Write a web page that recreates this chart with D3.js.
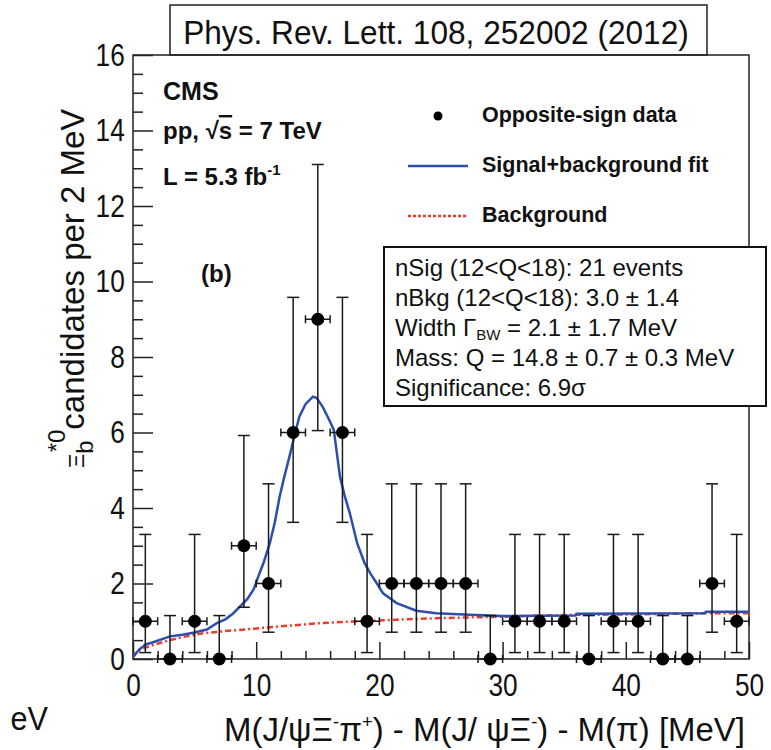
<!DOCTYPE html>
<html><head><meta charset="utf-8">
<script src="https://cdn.jsdelivr.net/npm/d3@7"></script>
<style>body{margin:0;background:#fff}svg{display:block}text{font-family:"Liberation Sans",Arial,sans-serif}</style>
</head><body>
<script>
// ---- data ----
const binCenters = [1,3,5,7,9,11,13,15,17,19,21,23,25,27,29,31,33,35,37,39,41,43,45,47,49];
const counts     = [1,0,1,0,3,2,6,9,6,1,2,2,2,2,0,1,1,1,0,1,1,0,0,2,1];
const errLow     = [0.83,0,0.83,0,1.63,1.29,2.38,2.95,2.38,0.83,1.29,1.29,1.29,1.29,0,0.83,0.83,0.83,0,0.83,0.83,0,0,1.29,0.83];
const errHigh    = [2.3,1.15,2.3,1.15,2.92,2.64,3.58,4.1,3.58,2.3,2.64,2.64,2.64,2.64,1.15,2.3,2.3,2.3,1.15,2.3,2.3,1.15,1.15,2.64,2.3];
const binHalfWidth = 1;
const fitX = [0,0.5,1,1.7,3,4,5,6,6.8,7.5,8.1,8.8,9.3,9.8,10.3,10.6,11.1,11.5,11.9,12.3,12.7,13.1,13.5,14,14.6,14.9,15.4,15.9,16.3,16.8,17.2,17.6,18.2,18.8,19.3,19.8,20.3,21.4,23,24.6,27.3,30,35.9,36,46.4,46.5,50];
const fitY = [0.05,0.25,0.38,0.45,0.6,0.64,0.7,0.78,0.95,1.05,1.2,1.43,1.6,1.85,2.3,2.55,3.06,3.6,4.3,4.85,5.36,5.9,6.42,6.75,6.95,6.92,6.68,6.35,6.07,4.83,4.3,3.86,3.06,2.54,2.25,2.0,1.74,1.48,1.28,1.21,1.17,1.14,1.15,1.2,1.21,1.25,1.25];
const bkgX = [0,0.3,1,1.65,3,4,5.7,7.5,9.8,12.5,15.2,17.5,19.5,22,24.6,27,30,33,36,40,46.3,50];
const bkgY = [0.05,0.2,0.3,0.37,0.5,0.58,0.68,0.74,0.8,0.88,0.95,0.99,1.01,1.05,1.08,1.1,1.12,1.15,1.17,1.18,1.21,1.21];
const xMajorTicks = [0,10,20,30,40,50];
const yMajorTicks = [0,2,4,6,8,10,12,14,16];
const statLines = ["nSig (12<Q<18): 21 events","nBkg (12<Q<18): 3.0 \u00b1 1.4","WIDTH","Mass: Q = 14.8 \u00b1 0.7 \u00b1 0.3 MeV","Significance: 6.9\u03c3"];

// ---- drawing ----
const W = 771, H = 750;
const svg = d3.select("body").append("svg").attr("width", W).attr("height", H);
const L = 133, R = 749, T = 55, B = 659;
const x = d3.scaleLinear().domain([0,50]).range([L,R]);
const y = d3.scaleLinear().domain([0,16]).range([B,T]);

// title box
svg.append("rect").attr("x",170).attr("y",5).attr("width",537).attr("height",50)
  .attr("fill","#fff").attr("stroke","#222").attr("stroke-width",1.5);
svg.append("g").attr("transform","translate(436,44)")
  .append("text").attr("transform","scale(0.93,1)").attr("text-anchor","middle")
  .attr("font-size",34).attr("fill","#111").text("Phys. Rev. Lett. 108, 252002 (2012)");

// frame
svg.append("rect").attr("x",L).attr("y",T).attr("width",R-L).attr("height",B-T)
  .attr("fill","none").attr("stroke","#222").attr("stroke-width",1.5);

// y axis
const yMinor = d3.range(0,16.01,0.5).filter(v => v % 2 !== 0);
svg.append("g").attr("transform",`translate(${L},0)`)
  .call(d3.axisLeft(y).tickValues(yMinor).tickSize(-10).tickFormat(""))
  .call(g => g.select(".domain").remove())
  .selectAll("line").attr("stroke","#222").attr("stroke-width",1.5);
const yAx = svg.append("g").attr("transform",`translate(${L},0)`)
  .call(d3.axisLeft(y).tickValues(yMajorTicks).tickSize(-20).tickPadding(8).tickFormat(d3.format("d")));
yAx.select(".domain").remove();
yAx.selectAll("line").attr("stroke","#222").attr("stroke-width",1.5);
yAx.selectAll("text").attr("font-size",32).attr("fill","#111").attr("font-family",'"Liberation Sans",Arial,sans-serif')
  .attr("x",-10).attr("transform","scale(0.82,1)");

// x axis
const xMinor = d3.range(0,50.01,2).filter(v => v % 10 !== 0);
svg.append("g").attr("transform",`translate(0,${B})`)
  .call(d3.axisBottom(x).tickValues(xMinor).tickSize(-8).tickFormat(""))
  .call(g => g.select(".domain").remove())
  .selectAll("line").attr("stroke","#222").attr("stroke-width",1.5);
const xAx = svg.append("g").attr("transform",`translate(0,${B})`)
  .call(d3.axisBottom(x).tickValues(xMajorTicks).tickSize(-17).tickPadding(14).tickFormat(d3.format("d")));
xAx.select(".domain").remove();
xAx.selectAll("line").attr("stroke","#222").attr("stroke-width",1.5);
xAx.selectAll("text").attr("font-size",32).attr("fill","#111").attr("font-family",'"Liberation Sans",Arial,sans-serif')
  .attr("transform","scale(0.82,1)").attr("x",0);

// x axis title
const xt = svg.append("g").attr("transform","translate(745,741)")
  .append("text").attr("transform","scale(0.97,1)").attr("text-anchor","end").attr("font-size",34).attr("fill","#111");
xt.append("tspan").text("M(J/\u03c8\u039e");
xt.append("tspan").attr("dy",-13).attr("font-size",19).text("-");
xt.append("tspan").attr("dy",13).text("\u03c0");
xt.append("tspan").attr("dy",-13).attr("font-size",19).text("+");
xt.append("tspan").attr("dy",13).text(") - M(J/ \u03c8\u039e");
xt.append("tspan").attr("dy",-13).attr("font-size",19).text("-");
xt.append("tspan").attr("dy",13).text(") - M(\u03c0) [MeV]");

// remnant label at bottom left
svg.append("g").attr("transform","translate(48,730)")
  .append("text").attr("transform","scale(0.9,1)").attr("text-anchor","end").attr("font-size",34).attr("fill","#111").text("eV");

// y axis title
const yt = svg.append("g").attr("transform","translate(84,468) rotate(-90)")
  .append("text").attr("font-size",33).attr("fill","#111");
yt.append("tspan").attr("font-size",22).text("\u039e");
yt.append("tspan").attr("dy",9).attr("font-size",24).text("b");
yt.append("tspan").attr("dx",-12).attr("dy",-28).attr("font-size",24).text("*0");
yt.append("tspan").attr("dy",19).text("candidates per 2 MeV");

// curves
const line = d3.line().x(d => x(d[0])).y(d => y(d[1]));
svg.append("path").datum(bkgX.map((v,i)=>[v,bkgY[i]])).attr("d",line)
  .attr("fill","none").attr("stroke","#ee3a2a").attr("stroke-width",2.5).attr("stroke-dasharray","6,3,2,3");
svg.append("path").datum(fitX.map((v,i)=>[v,fitY[i]])).attr("d",line)
  .attr("fill","none").attr("stroke","#2c4fae").attr("stroke-width",2.5);

// data points
const pts = binCenters.map((c,i)=>({c, n:counts[i], lo:errLow[i], hi:errHigh[i]}));
const pg = svg.append("g").attr("stroke","#1a1a1a").attr("stroke-width",1.5);
pts.forEach(p => {
  const cx = x(p.c), cy = y(p.n);
  pg.append("line").attr("x1",cx).attr("x2",cx).attr("y1",y(p.n - p.lo)).attr("y2",y(p.n + p.hi));
  pg.append("line").attr("x1",cx-6).attr("x2",cx+6).attr("y1",y(p.n + p.hi)).attr("y2",y(p.n + p.hi));
  if (p.lo > 0) pg.append("line").attr("x1",cx-6).attr("x2",cx+6).attr("y1",y(p.n - p.lo)).attr("y2",y(p.n - p.lo));
  const xl = x(p.c - binHalfWidth), xr = x(p.c + binHalfWidth);
  pg.append("line").attr("x1",xl).attr("x2",xr).attr("y1",cy).attr("y2",cy);
  pg.append("line").attr("x1",xl).attr("x2",xl).attr("y1",cy-4).attr("y2",cy+4);
  pg.append("line").attr("x1",xr).attr("x2",xr).attr("y1",cy-4).attr("y2",cy+4);
});
svg.append("g").selectAll("circle").data(pts).join("circle")
  .attr("cx",d=>x(d.c)).attr("cy",d=>y(d.n)).attr("r",6.5).attr("fill","#000");

// CMS text
const inner = svg.append("g").attr("font-weight","bold").attr("fill","#111");
inner.append("text").attr("x",163).attr("y",100).attr("font-size",25).text("CMS");
const pp = inner.append("text").attr("x",163).attr("y",139).attr("font-size",24);
pp.append("tspan").text("pp,  \u221a");
pp.append("tspan").attr("text-decoration","overline").text("s");
pp.append("tspan").text(" = 7 TeV");
const lum = inner.append("text").attr("x",163).attr("y",185).attr("font-size",24);
lum.append("tspan").text("L = 5.3 fb");
lum.append("tspan").attr("dy",-10).attr("font-size",15).text("-1");
inner.append("text").attr("x",201).attr("y",282).attr("font-size",24).text("(b)");

// legend
const lg = svg.append("g");
lg.append("circle").attr("cx",438).attr("cy",116).attr("r",4.5).attr("fill","#000");
lg.append("line").attr("x1",408).attr("x2",468).attr("y1",166).attr("y2",166).attr("stroke","#2c4fae").attr("stroke-width",2.5);
lg.append("line").attr("x1",408).attr("x2",468).attr("y1",216).attr("y2",216).attr("stroke","#ee3a2a").attr("stroke-width",2.5).attr("stroke-dasharray","3,2");
const legTxt = ["Opposite-sign data","Signal+background fit","Background"];
lg.selectAll("text").data(legTxt).join("text").attr("x",482).attr("y",(d,i)=>122+i*50)
  .attr("font-size",21.5).attr("font-weight","bold").attr("fill","#111").text(d=>d);

// stat box
svg.append("rect").attr("x",384).attr("y",247).attr("width",382).attr("height",159)
  .attr("fill","#fff").attr("stroke","#111").attr("stroke-width",2);
const sb = svg.append("g").attr("fill","#111").attr("font-size",24);
statLines.forEach((s,i) => {
  const t = sb.append("text").attr("x",395).attr("y",276+i*30);
  if (s === "WIDTH") {
    t.append("tspan").text("Width \u0393");
    t.append("tspan").attr("dy",4).attr("font-size",15).text("BW");
    t.append("tspan").attr("dy",-4).text(" = 2.1 \u00b1 1.7 MeV");
  } else t.text(s);
});
</script>
</body></html>
